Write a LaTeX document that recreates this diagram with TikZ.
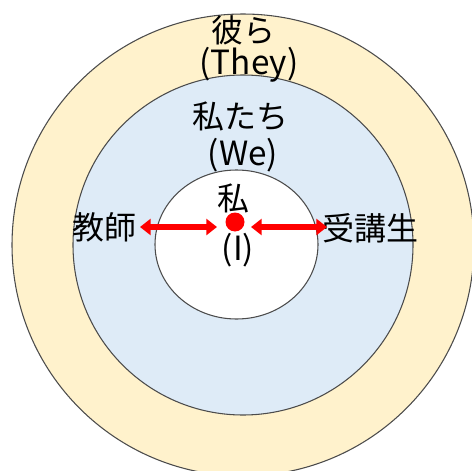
\documentclass[tikz,border=0pt]{standalone}
\usepackage{fontspec}
\setmainfont{Noto Sans CJK JP}
\usetikzlibrary{arrows.meta}
\definecolor{outerfill}{HTML}{FFF2CC}
\definecolor{midfill}{HTML}{DEEBF7}
\definecolor{arrowred}{HTML}{FF0000}
\tikzset{
  ring/.style={draw=black!70, line width=0.8},
  lbl/.style={inner sep=0pt, font=\fontsize{24}{26}\selectfont},
  latlbl/.style={inner sep=0pt, font=\fontsize{25}{27}\selectfont},
  dbl/.style={draw=arrowred, line width=4.6, {Triangle[length=8,width=12]}-{Triangle[length=8,width=12]}},
}
\begin{document}
\begin{tikzpicture}[x=0.75pt,y=-0.75pt]
\useasboundingbox (0,0) rectangle (472,471);
\begin{scope}
\clip (0,0) rectangle (472,471);
\node[ring, fill=outerfill, circle, minimum size=462*0.75pt, inner sep=0pt] (outer) at (243,245) {};
\end{scope}
\node[ring, fill=midfill, circle, minimum size=340*0.75pt, inner sep=0pt] (mid) at (243,245) {};
\draw[ring, fill=white] (236.5,244.5) ellipse [x radius=81.5, y radius=74.5];
\coordinate (innerc) at (236.5,244.5);
\node[lbl] (they1) at (243,30) {彼ら};
\node[latlbl] (they2) at (249,65) {(They)};
\node[lbl] (we1) at (240,116) {私たち};
\node[latlbl] (we2) at (243,155) {(We)};
\node[lbl] (me1) at (233,198) {私};
\node[latlbl] (me2) at (238,250) {(I)};
\node[circle, fill=arrowred, minimum size=19*0.75pt, inner sep=0pt] (dot) at (235,222) {};
\node[lbl] (teacher) at (104,227) {教師};
\node[lbl] (student) at (370,228) {受講生};
\coordinate (la) at (140,227);
\coordinate (lb) at (217,227);
\coordinate (ra) at (251,227);
\coordinate (rb) at (327,227);
\draw[dbl] (la) -- (lb);
\draw[dbl] (ra) -- (rb);
\end{tikzpicture}
\end{document}
